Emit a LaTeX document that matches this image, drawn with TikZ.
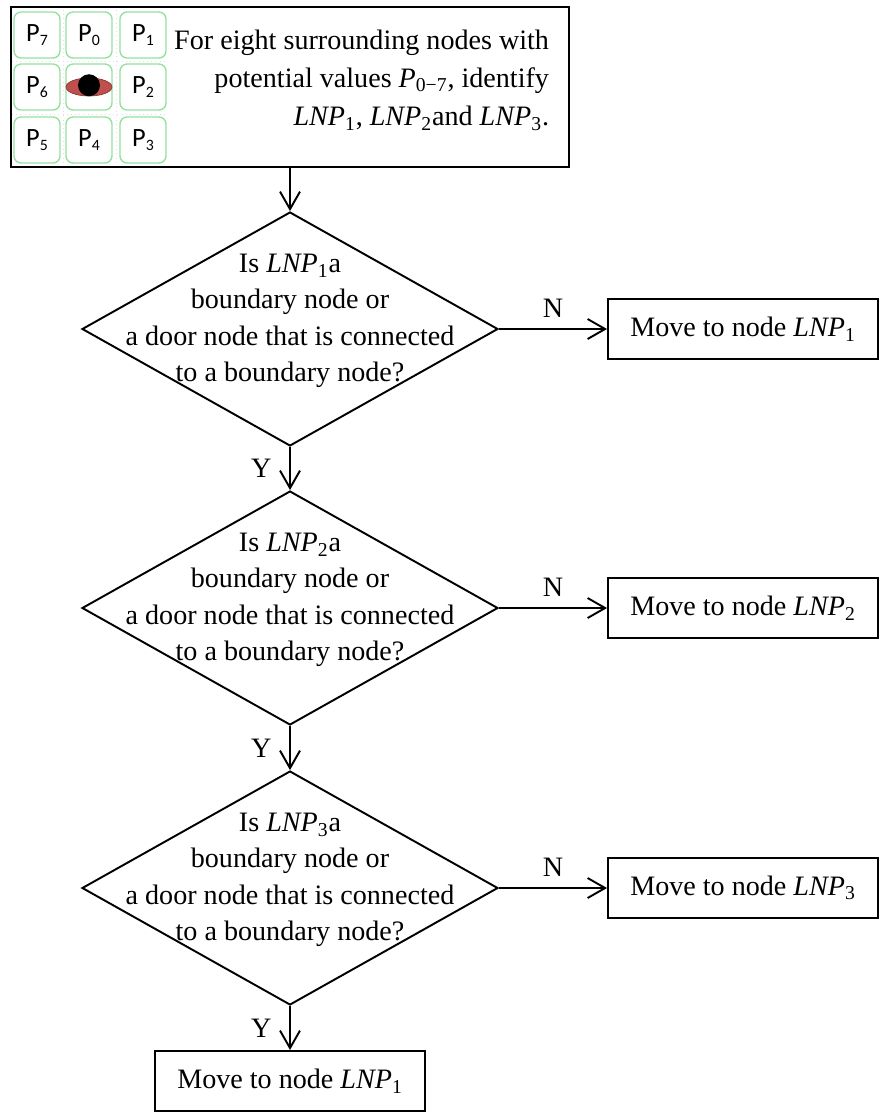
\documentclass[tikz,border=0pt]{standalone}
\usepackage{fontspec}
\setmainfont{Liberation Serif}
\newfontfamily\cellfont{Carlito}
\usetikzlibrary{arrows.meta, shapes.geometric}
\definecolor{cellgreen}{RGB}{150,225,160}
\definecolor{eyered}{RGB}{192,80,77}

% P label with a small lowered index
\newcommand{\pcell}[1]{{\cellfont\fontsize{15}{15}\selectfont P\raisebox{-0.35ex}{\fontsize{9}{9}\selectfont #1}}}
% italic node name with upright index
\newcommand{\lnp}[1]{\textit{LNP}\textsubscript{#1}}

\begin{document}
\begin{tikzpicture}[x=0.02cm, y=-0.02cm, line width=1.1pt,
   every node/.style={font=\fontsize{16}{21}\selectfont},
   box/.style={draw, minimum width=5.4cm, minimum height=1.2cm},
   decision/.style={draw, diamond, minimum width=8.32cm,
                    minimum height=4.68cm, inner sep=0pt},
   question/.style={align=center, inner sep=0pt,
                    font=\fontsize{16}{20.7}\selectfont},
   cell/.style={draw=cellgreen, rounded corners=4pt, line width=0.8pt,
                minimum width=0.92cm, minimum height=0.92cm, inner sep=0pt},
   arr/.style={-{Straight Barb[length=3.5mm, width=4mm]}}]
  \useasboundingbox (0,0) rectangle (881,1113);

  % start box with the 3x3 neighbourhood
  \node[draw, minimum width=11.16cm, minimum height=3.2cm] (init) at (290,87) {};
  \draw[gray!25, line width=0.4pt, dotted] (63,10) -- (63,165) (116,10) -- (116,165)
        (12,61) -- (168,61) (12,114) -- (168,114);
  \foreach \lab/\cx/\cy in {7/37/35, 0/89/35, 1/143/35, 6/37/87,
                            2/143/87, 5/37/140, 4/89/140, 3/143/140}
    \node[cell] (p\lab) at (\cx,\cy) {\pcell{\lab}};
  \node[cell] (pc) at (89,87) {};
  \fill[eyered, draw=eyered!70!black, line width=0.4pt] (pc) ellipse [x radius=23, y radius=9];
  \fill ([yshift=1pt]pc.center) ellipse [x radius=11, y radius=11];
  \node[anchor=east, align=right, inner sep=0pt,
        font=\fontsize{16}{21.8}\selectfont] (initText) at (550,80)
       {For eight surrounding nodes with\\
        potential values \textit{P}\textsubscript{0−7}, identify\\
        \lnp{1}, \lnp{2}and \lnp{3}.};

  % the three checks
  \foreach \k/\cy in {1/329, 2/608, 3/888} {
    \node[decision] (d\k) at (290,\cy) {};
    \node[question] (q\k) at (290,\cy-8)
         {Is \lnp{\k}a\\ boundary node or\\ a door node that is connected\\ to a boundary node?};
    \node[box] (m\k) at (743,\cy) {Move to node \lnp{\k}};
    \draw[arr] (d\k.east) -- node[above=6pt, inner sep=0pt] (n\k) {N} (m\k.west);
  }
  \node[box] (last) at (290,1081) {Move to node \lnp{1}};

  \draw[arr] (init.south) -- (d1.north);
  \draw[arr] (d1.south) -- node[left=10pt, inner sep=0pt] (y1) {Y} (d2.north);
  \draw[arr] (d2.south) -- node[left=10pt, inner sep=0pt] (y2) {Y} (d3.north);
  \draw[arr] (d3.south) -- node[left=10pt, inner sep=0pt] (y3) {Y} (last.north);
\end{tikzpicture}
\end{document}
